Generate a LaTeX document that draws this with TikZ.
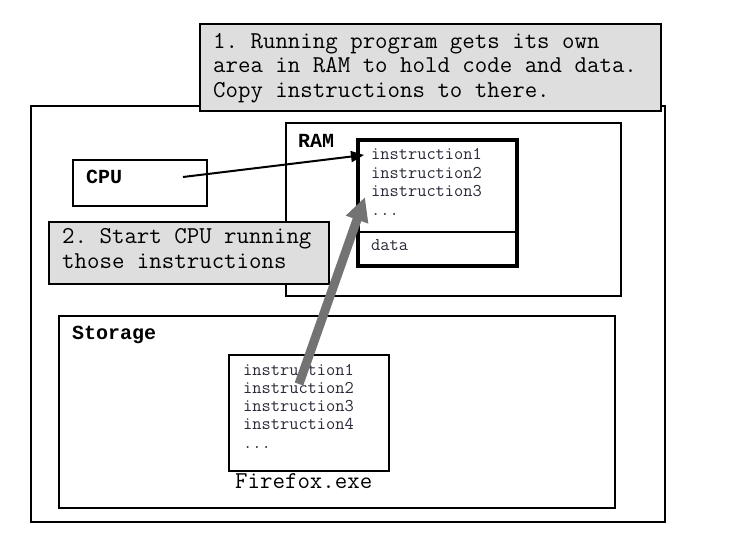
\documentclass[tikz,border=0pt]{standalone}
\usepackage{fontspec}
\newfontfamily\boldmono{Liberation Mono}
\usetikzlibrary{arrows.meta}
\definecolor{callfill}{HTML}{DEDEDE}
\definecolor{bigarrow}{HTML}{737373}
\definecolor{instr}{HTML}{2A2A3A}
\frenchspacing
\tikzset{
  box/.style={draw=black, line width=1.5pt, anchor=north west, inner sep=0pt, fill=white},
  callout/.style={draw=black, line width=1.8pt, anchor=north west, inner sep=0pt, fill=callfill},
  bigtxt/.style={anchor=base west, inner sep=0pt, font=\fontsize{24.2}{24}\selectfont\ttfamily},
  boldtxt/.style={anchor=base west, inner sep=0pt, font=\fontsize{20}{24}\selectfont\boldmono\bfseries},
  smalltxt/.style={anchor=base west, inner sep=0pt, text=instr, font=\fontsize{17.9}{18}\selectfont\ttfamily},
}
\begin{document}
\begin{tikzpicture}[x=1pt,y=-1pt]
\useasboundingbox (0,0) rectangle (742,533);
% outer frame
\node[box, minimum width=634pt, minimum height=416pt] (outer) at (30,105) {};
% callout 1
\node[callout, minimum width=461pt, minimum height=87pt] (call1) at (199,23) {};
\node[bigtxt] (c1a) at (213,48) {1. Running program gets its own};
\node[bigtxt] (c1b) at (213,72) {area in RAM to hold code and data.};
\node[bigtxt] (c1c) at (213,97) {Copy instructions to there.};
% RAM
\node[box, minimum width=335pt, minimum height=173pt] (ram) at (285,122) {};
\node[boldtxt] (ramlbl) at (298,147) {RAM};
\node[box, line width=4pt, minimum width=159pt, minimum height=126pt] (area) at (356,138) {};
\draw[line width=2pt] (area.west |- 0,232) -- (area.east |- 0,232);
\node[smalltxt] (r1) at (371,159) {instruction1};
\node[smalltxt] (r2) at (371,178) {instruction2};
\node[smalltxt] (r3) at (371,196) {instruction3};
\node[smalltxt] (r4) at (371,215) {...};
\node[smalltxt] (rdata) at (371,250) {data};
% CPU
\node[box, minimum width=134pt, minimum height=46pt] (cpu) at (72,159) {};
\node[boldtxt] (cpulbl) at (86,183) {CPU};
% callout 2
\node[callout, minimum width=280pt, minimum height=62pt] (call2) at (48,221) {};
\node[bigtxt] (c2a) at (62,243) {2. Start CPU running};
\node[bigtxt] (c2b) at (62,268) {those instructions};
% Storage
\node[box, minimum width=556pt, minimum height=192pt] (storage) at (58,315) {};
\node[boldtxt] (storlbl) at (72,339) {Storage};
\node[box, minimum width=160pt, minimum height=116pt] (exe) at (228,354) {};
\node[smalltxt] (f1) at (243,375) {instruction1};
\node[smalltxt] (f2) at (243,393) {instruction2};
\node[smalltxt] (f3) at (243,411) {instruction3};
\node[smalltxt] (f4) at (243,429) {instruction4};
\node[smalltxt] (f5) at (243,448) {...};
\node[bigtxt] (exename) at (235,488) {Firefox.exe};
% connectors
\coordinate (cpuout) at (183,177);
\coordinate (ramin) at (364,155);
\draw[line width=2pt, -{Triangle[length=13pt,width=11pt]}] (cpuout) -- (ramin);
\coordinate (exeout) at (299,384);
\coordinate (areain) at (365,197);
\draw[line width=9pt, draw=bigarrow, -{Triangle[length=24pt,width=22pt,fill=bigarrow]}] (exeout) -- (areain);
\end{tikzpicture}
\end{document}
